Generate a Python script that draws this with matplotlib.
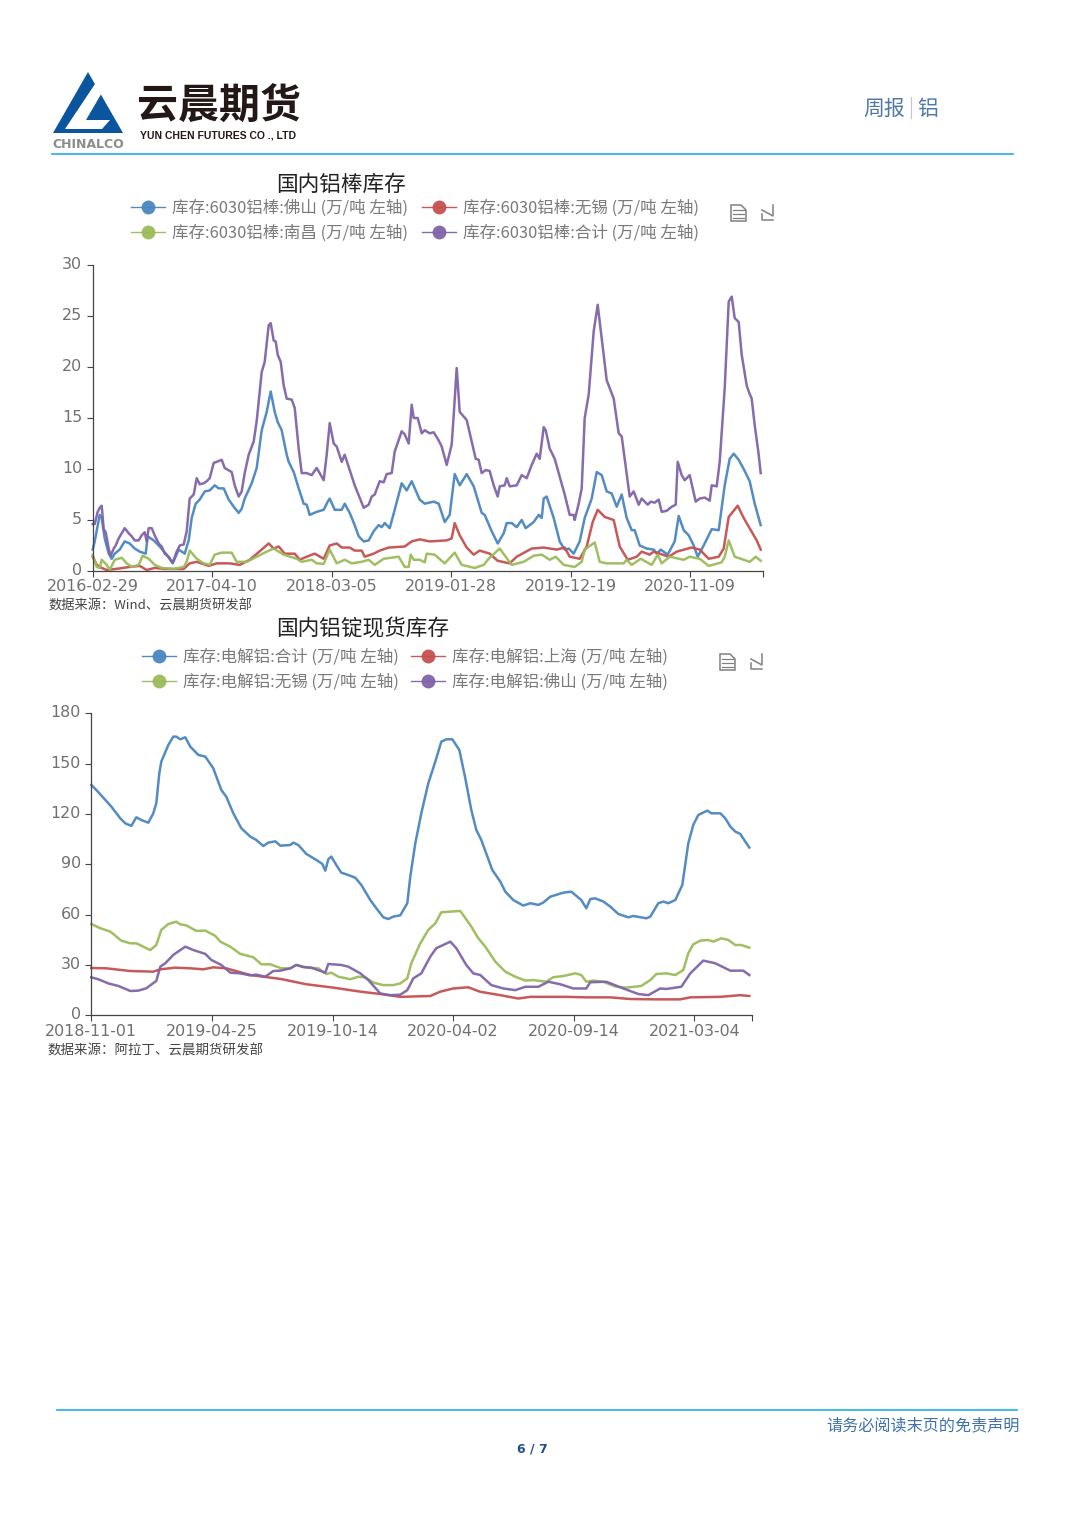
import matplotlib
matplotlib.use("Agg")
import matplotlib.pyplot as plt
from matplotlib.lines import Line2D
from matplotlib.patches import Polygon
from matplotlib.transforms import ScaledTranslation

CJK = ["Noto Sans CJK SC", "DejaVu Sans"]
plt.rcParams["font.family"] = CJK

W, H = 1080, 1526

BLUE = "#4a86c0"
RED = "#c4504f"
GREEN = "#9bbb59"
PURPLE = "#8064a8"

# ---- chart 1: rod stocks ----
rod_ticks = ["2016-02-29", "2017-04-10", "2018-03-05", "2019-01-28", "2019-12-19", "2020-11-09"]
rod_labels = ["库存:6030铝棒:佛山 (万/吨 左轴)", "库存:6030铝棒:无锡 (万/吨 左轴)",
              "库存:6030铝棒:南昌 (万/吨 左轴)", "库存:6030铝棒:合计 (万/吨 左轴)"]

rod_foshan_x = [0,2,7,9,12,16,19,22,27,32,37,42,47,53,55,61,67,74,80,86,92,96,99,103,107,112,117,122,126,131,136,141,146,149,152,159,164,169,174,178,182,185,189,194,196,201,206,211,214,217,224,231,235,237,242,249,252,257,262,266,271,276,281,286,289,292,297,302,309,314,319,327,332,341,346,352,357,362,367,374,381,389,392,399,405,411,414,419,424,429,433,441,446,449,451,454,461,467,472,476,481,487,492,499,504,509,514,519,524,529,534,539,542,547,554,561,564,568,575,582,586,591,596,601,605,611,619,626,632,637,641,646,651,657,662,668]
rod_foshan = [2.1,2.9,5.5,5.2,3.2,1.7,1.2,1.7,2.1,2.9,2.7,2.2,1.9,1.7,3.4,3.0,2.4,1.6,0.75,2.1,1.7,3,5.2,6.6,7,7.8,7.9,8.4,8.1,8.1,7,6.3,5.7,6.1,7.1,8.6,10.1,13.8,15.6,17.6,15.6,14.6,13.8,11.4,10.7,9.7,8.1,6.6,6.5,5.5,5.8,6,6.8,7.1,6,6,6.6,5.7,4.5,3.4,2.9,3,3.9,4.5,4.3,4.7,4.2,6,8.6,7.9,8.8,7,6.6,6.8,6.6,4.8,5.5,9.5,8.4,9.5,8.3,5.7,5.5,3.9,2.7,3.7,4.7,4.7,4.3,5,4.2,4.8,5.5,5.2,7.1,7.3,5.2,2.9,2.1,2.2,1.7,2.9,5.2,7.1,9.7,9.4,7.8,7.6,6.3,7.5,5.2,4,4,2.5,2.2,2.1,1.7,2.1,1.6,2.9,5.4,4,3.5,2.5,1.4,2.5,4.1,4,8.4,11,11.5,10.9,10,8.8,6.6,4.5]

rod_wuxi_x = [0,4,9,14,27,37,47,54,62,72,91,97,104,116,124,137,147,157,169,176,181,186,192,202,207,214,222,231,237,244,249,257,262,269,272,281,287,296,312,319,327,337,354,359,362,367,374,381,387,397,405,417,424,439,451,464,472,477,487,494,500,505,512,521,527,535,544,549,557,561,576,584,599,607,616,626,631,636,645,651,664,668]
rod_wuxi = [1.4,.6,.3,.1,.25,.4,.5,.1,.3,.2,.2,.75,.9,.5,.75,.75,.6,1.1,2.1,2.7,2.2,2.4,1.7,1.7,1.1,1.4,1.7,1.2,2.5,2.7,2.3,2.3,2,2,1.4,1.7,2,2.3,2.4,2.9,3.1,2.9,3,3.2,4.7,3.5,2.3,1.6,2,1.7,1,.75,1.4,2.2,2.3,2.1,2.3,1.4,1.2,2.4,4.8,6,5.3,5,2.4,1.1,1.4,1.9,1.6,1.9,1.4,1.9,2.3,2.1,1.2,1.4,2.2,5.3,6.4,5.2,3,2.1]

rod_nanchang_x = [0,4,7,9,14,17,22,29,34,39,46,50,56,62,69,81,91,94,97,104,111,117,122,129,139,144,154,164,174,181,191,204,209,219,224,231,237,244,252,259,269,276,282,291,306,312,316,318,321,327,332,334,342,352,362,369,382,391,396,407,419,431,441,449,457,463,471,482,489,492,502,507,514,531,534,539,548,559,565,569,577,591,597,607,616,629,632,636,642,651,657,663,668]
rod_nanchang = [1.6,.4,.3,1.1,.6,.1,1.1,1.3,.75,.4,.6,1.5,1.2,.6,.3,.2,.4,.9,2,1.2,.75,.6,1.6,1.8,1.8,.9,.9,1.4,1.9,2.2,1.6,1.2,.9,1.1,.75,.7,2.1,.75,1.1,.75,.9,1.1,.6,1.2,1.4,.4,.4,1.6,1.1,1.1,.85,1.7,1.6,.75,1.8,.6,.3,.6,1.2,2.2,.6,.9,1.5,1.6,1.1,1.4,.6,.4,.9,2.1,2.8,.9,.75,.75,1.1,.6,1.2,.6,1.6,.75,1.4,1.1,1.4,1.2,.5,.85,1.4,3,1.4,1.1,.9,1.4,1]

rod_total_x = [0,2,5,7,9,11,13,16,18,21,23,26,29,32,36,39,42,46,49,52,54,56,59,62,66,69,72,76,80,84,87,91,94,97,101,104,107,111,114,117,121,124,129,132,139,142,146,149,152,156,161,164,169,172,176,178,181,183,185,188,191,194,199,202,206,209,214,219,224,231,234,237,241,244,249,252,257,262,271,276,279,282,287,291,294,299,302,309,312,316,319,321,325,329,332,337,341,346,349,354,359,361,364,367,374,379,383,386,389,393,397,401,405,407,412,414,417,424,429,434,439,444,447,451,453,457,462,472,477,481,482,486,489,492,496,501,505,509,514,521,526,529,537,541,546,549,555,558,562,566,569,574,579,583,585,589,592,597,603,607,612,617,619,624,627,632,636,639,642,646,649,654,656,659,662,666,668]
rod_total = [4.6,4.6,5.8,6.2,6.4,4.1,3.8,2.2,1.5,2.2,2.5,3.2,3.7,4.2,3.7,3.4,3.0,3.0,3.5,3.8,2.9,4.2,4.2,3.5,2.7,2.4,1.7,1.4,.8,1.9,2.5,2.6,3.9,7.1,7.5,9.1,8.5,8.6,8.8,9.1,10.6,10.7,10.9,10.1,9.7,8.4,7.3,7.8,9.6,11.4,12.7,14.7,19.5,20.5,24.1,24.3,22.6,22.5,21.2,20.5,18.2,16.9,16.8,16,12,9.6,9.6,9.4,10.1,8.9,11.4,14.5,12.5,12.2,10.7,11.4,9.9,8.4,6.2,6.5,7.3,7.5,8.8,8.7,9.5,9.6,11.7,13.7,13.4,12.5,16.3,15,15,13.5,13.8,13.5,13.6,12.8,12.2,10.4,12.4,15.3,19.9,15.6,14.8,12.7,11,10.9,9.6,9.9,9.8,8.4,7.3,8.3,8.4,9.1,8.3,8.4,9.4,9.1,10.4,11.5,11,14.1,13.8,12,11,7.5,5.5,5.5,5,6.6,8.1,15,17.3,23.5,26.1,22.8,18.7,16.9,13.5,13.2,7.3,7.8,6.5,7.1,6.5,6.8,6.7,7,5.8,5.9,6.3,6.5,10.7,9.4,8.9,9.4,6.8,7.1,7.2,6.9,8.4,8.3,10.7,17.9,26.4,26.9,24.8,24.4,21.2,18.2,17.6,16.9,14.3,11.4,9.6]

# ---- chart 2: ingot stocks ----
ingot_ticks = ["2018-11-01", "2019-04-25", "2019-10-14", "2020-04-02", "2020-09-14", "2021-03-04"]
ingot_labels = ["库存:电解铝:合计 (万/吨 左轴)", "库存:电解铝:上海 (万/吨 左轴)",
                "库存:电解铝:无锡 (万/吨 左轴)", "库存:电解铝:佛山 (万/吨 左轴)"]

ingot_total_x = [0,5,14,20,29,34,40,45,50,57,62,65,68,70,77,82,85,89,94,99,107,114,122,130,135,142,150,159,165,172,177,184,189,199,202,207,215,225,231,234,237,240,245,250,257,264,270,279,285,292,297,302,309,316,319,324,330,337,344,350,355,361,368,374,380,385,390,401,409,414,422,432,439,447,452,459,472,480,490,495,499,504,512,519,527,537,542,555,559,567,572,577,584,591,597,602,607,616,620,629,634,639,644,649,654,658]
ingot_total = [137.3,134.3,128.4,124.4,117.4,114.4,112.9,118,116.4,114.8,120.4,126.4,144.2,151.2,161.1,166.1,166.1,164.5,165.7,160.1,155.2,154.2,147.2,134.3,130.3,120.4,111.5,106.5,104.5,100.9,102.9,103.7,101.1,101.5,102.9,101.5,96.2,92.6,90.2,86.2,93,94.6,89.6,85,83.6,82,77.7,68.7,63.8,58.4,57.4,58.8,59.6,66.8,82.7,102.5,120.4,138.3,151.2,163.1,164.5,164.5,158.2,141.3,122.4,110.5,104.5,86.6,79.7,73.7,68.7,65.4,66.8,65.8,67.2,70.7,73.1,73.7,68.7,63.8,69.3,69.7,67.8,64.8,60.4,58.4,59.2,57.8,58.8,66.8,67.8,66.8,68.7,77.7,102.5,113.5,119.4,122,120.4,120.4,117.4,112.5,109.5,108.1,103.5,100]

ingot_shanghai_x = [0,15,39,62,69,84,99,112,122,135,159,189,215,242,269,289,309,339,349,362,377,389,409,427,439,475,495,519,539,565,589,599,629,649,658]
ingot_shanghai = [28.2,28,26.4,26,27.4,28.4,28,27.4,28.6,28,24,21.7,18.5,16.5,14.1,12.7,11,11.5,14.1,16,16.7,14,12,10,11,11,10.7,10.7,9.7,9.5,9.5,10.7,11,12,11.5]

ingot_wuxi_x = [0,9,19,30,39,45,52,59,65,70,77,85,89,95,105,114,124,129,139,149,162,170,179,190,199,205,215,227,235,240,247,259,267,274,282,292,302,309,316,320,329,337,344,350,359,369,380,387,394,404,414,424,434,442,455,462,472,484,490,495,502,512,525,535,550,559,565,575,584,592,597,602,609,617,622,630,637,644,650,658]
ingot_wuxi = [54.4,51.9,49.9,44.5,42.9,42.9,40.9,38.9,41.9,50.9,54.4,55.8,54.2,53.6,50.3,50.5,47.3,43.9,40.9,36.6,34.6,30.4,30.4,28,28,30,28.4,28,24.6,25.4,23,21.5,23,22.6,19.5,18,18,19,22,31,42.9,50.9,54.8,61.4,61.8,62.2,52.9,45.9,40.9,32,26,23,20.7,21,20,22.7,23.4,25,24,20,20.7,20,17,16.5,17.5,21,24.6,25,24,27,37,42.3,44.5,44.9,43.9,45.9,44.9,41.9,41.9,40.3]

ingot_foshan_x = [0,7,17,27,39,47,55,65,69,74,82,89,94,102,114,120,130,139,149,159,165,174,182,189,199,205,212,220,234,237,250,257,269,277,289,299,309,316,322,330,339,345,359,365,375,382,389,400,412,424,434,447,457,469,482,495,499,515,532,547,557,569,575,590,599,612,624,639,652,658]
ingot_foshan = [22.6,21.5,19,17.5,14.5,14.7,16.1,20.5,29,31,36,38.9,40.9,38.9,36.6,33,30,25.4,25,23.8,24.2,23,26.4,26.6,28,30,28.8,28.4,25.4,30.6,30,29,25,21,13,12,12.3,15,22,25,35,40,43.9,40,30,25,24,18,16,15,17,17,20,18.5,16,16,19.7,20,16,12.7,12,16,15.7,17,25,32.6,31,26.6,26.6,24]


def px_axes(fig, left, right, top, bottom):
    return fig.add_axes([left / W, 1 - bottom / H, (right - left) / W, (bottom - top) / H])


def draw_chart(fig, box, xlim, step, ymax, yticks, ticklabels, series, labels, legend_xy, colspace):
    ax = px_axes(fig, *box)
    for x, y, c in series:
        ax.plot(x, y, color=c, lw=1.8, alpha=0.95, solid_joinstyle="round", clip_on=False)
    ax.set_xlim(0, xlim)
    ax.set_ylim(0, ymax)
    ax.spines["top"].set_visible(False)
    ax.spines["right"].set_visible(False)
    for s in ["left", "bottom"]:
        ax.spines[s].set_color("#444444")
        ax.spines[s].set_linewidth(0.9)
    ax.set_xticks([i * step for i in range(len(ticklabels))] + [xlim])
    ax.set_xticklabels(ticklabels + [""], family="DejaVu Sans", fontsize=11.4, color="#707070")
    ax.set_yticks(yticks)
    ax.set_yticklabels([str(v) for v in yticks], family="DejaVu Sans", fontsize=11.4, color="#707070")
    ax.tick_params(axis="x", length=4, width=0.8, color="#444444", pad=2)
    ax.tick_params(axis="y", length=4, width=0.8, color="#444444", pad=3.5)
    # y labels sit a little above their ticks
    nudge = ScaledTranslation(0, 2 / 100, fig.dpi_scale_trans)
    for t in ax.get_yticklabels():
        t.set_transform(t.get_transform() + nudge)

    handles = [Line2D([0], [0], color=c, lw=1.0, marker="o", ms=10, mew=0, alpha=0.95)
               for _, _, c in series]
    # column-wise fill: first column holds entries 0 and 2
    order = [0, 2, 1, 3]
    fig.legend([handles[i] for i in order], [labels[i] for i in order], ncol=2,
               loc="upper left", bbox_to_anchor=(legend_xy[0] / W, 1 - legend_xy[1] / H),
               bbox_transform=fig.transFigure, frameon=False, numpoints=1,
               prop={"family": CJK, "size": 11.9}, labelcolor="#7a7a7a",
               borderpad=0, borderaxespad=0, handlelength=2.05, handletextpad=0.42,
               columnspacing=colspace, labelspacing=0.5)
    return ax


def main():
    fig = plt.figure(figsize=(W / 100, H / 100), dpi=100, facecolor="white")

    # page furniture in pixel coordinates
    page = fig.add_axes([0, 0, 1, 1])
    page.set_xlim(0, W)
    page.set_ylim(H, 0)
    page.axis("off")

    page.add_patch(Polygon([(88, 72), (53, 133), (123, 133)], closed=True, fc="#0b559f", ec="none"))
    page.add_patch(Polygon([(95, 84), (107, 84), (86, 120), (110, 120), (102, 129), (65, 129)],
                           closed=True, fc="white", ec="none"))
    page.text(52, 144, "CHINALCO", fontsize=9, fontweight="bold", color="#8c8c8c",
              family="DejaVu Sans", va="center", ha="left")
    page.text(219, 107, "云晨期货", fontsize=29.5, fontweight="bold", color="#231815", va="center", ha="center")
    page.text(140, 135, "YUN CHEN FUTURES CO ., LTD", fontsize=7.5, fontweight="bold", color="#231815",
              family="Liberation Sans", va="center", ha="left")
    page.text(863, 109, "周报", fontsize=15, color="#4f77a8", va="center", ha="left")
    page.plot([911, 911], [97, 118], color="#c0c8d4", lw=0.8)
    page.text(917, 109, "铝", fontsize=15, color="#4f77a8", va="center", ha="left")
    page.plot([52, 1013], [154, 154], color="#1fb0ea", lw=1.2)
    page.plot([57, 1017], [1410, 1410], color="#1fb0ea", lw=1.2)
    page.text(826, 1426, "请务必阅读末页的免责声明", fontsize=11.6, color="#3f72ad", va="center", ha="left")
    page.text(532, 1449, "6 / 7", fontsize=9, fontweight="bold", color="#1f4e8c",
              family="DejaVu Sans", va="center", ha="center")

    page.text(276, 185, "国内铝棒库存", fontsize=15.6, color="#222222", va="center", ha="left")
    page.text(276, 629, "国内铝锭现货库存", fontsize=15.6, color="#222222", va="center", ha="left")
    page.text(48, 606.5, "数据来源：Wind、云晨期货研发部", fontsize=9.5, color="#444444", va="center", ha="left")
    page.text(48, 1050, "数据来源：阿拉丁、云晨期货研发部", fontsize=9.7, color="#444444", va="center", ha="left")

    # toolbox icons next to each legend
    for ix, iy in [(738, 213), (768, 213), (727, 662), (757, 662)]:
        if ix in (738, 727):
            page.add_patch(Polygon([(ix - 7, iy - 8), (ix + 3, iy - 8), (ix + 8, iy - 3), (ix + 8, iy + 8), (ix - 7, iy + 8)],
                                   closed=True, fc="none", ec="#808080", lw=1.1))
            for dy in (-3, 1, 5):
                page.plot([ix - 5, ix + 6], [iy + dy, iy + dy], color="#808080", lw=0.9)
        else:
            page.plot([ix + 5, ix + 5, ix - 6], [iy - 8, iy + 3, iy - 3], color="#808080", lw=1.1)
            page.plot([ix - 6, ix - 6, ix + 5], [iy + 1, iy + 7, iy + 7], color="#808080", lw=1.1)

    rod_series = [(rod_foshan_x, rod_foshan, BLUE), (rod_wuxi_x, rod_wuxi, RED),
                  (rod_nanchang_x, rod_nanchang, GREEN), (rod_total_x, rod_total, PURPLE)]
    draw_chart(fig, (92.7, 762.7, 265, 571), 670, 119.5, 30, [0, 5, 10, 15, 20, 25, 30],
               rod_ticks, rod_series, rod_labels, (131, 199), 0.85)

    ingot_series = [(ingot_total_x, ingot_total, BLUE), (ingot_shanghai_x, ingot_shanghai, RED),
                    (ingot_wuxi_x, ingot_wuxi, GREEN), (ingot_foshan_x, ingot_foshan, PURPLE)]
    draw_chart(fig, (91.3, 751.7, 713.3, 1015.3), 660.4, 120.6, 180, [0, 30, 60, 90, 120, 150, 180],
               ingot_ticks, ingot_series, ingot_labels, (142, 648), 0.75)

    fig.savefig("out.png", dpi=100, facecolor="white")


if __name__ == "__main__":
    main()
